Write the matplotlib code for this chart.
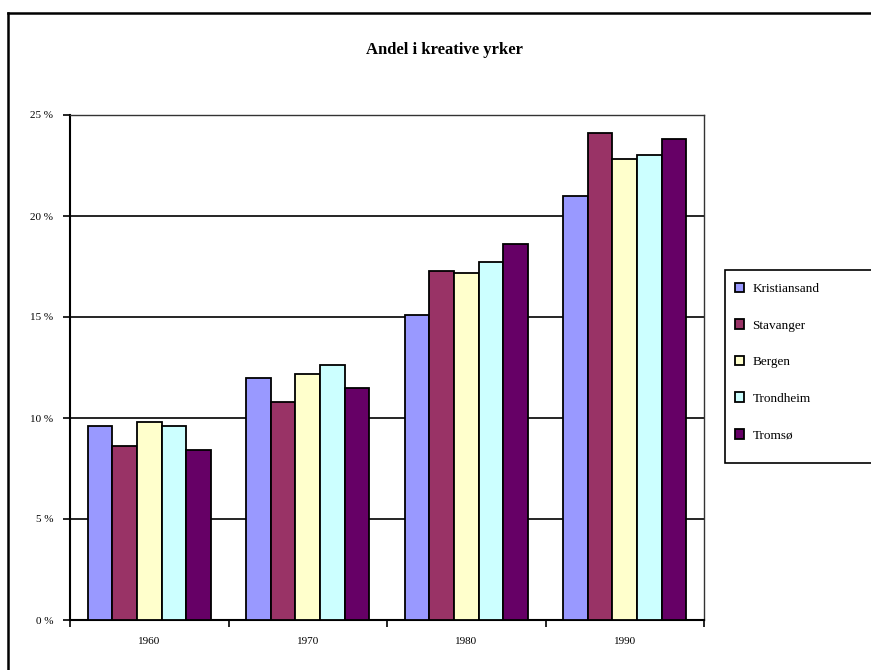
import matplotlib
matplotlib.use("Agg")
import matplotlib.pyplot as plt
from matplotlib.lines import Line2D
from matplotlib.patches import Rectangle
import numpy as np

# data (percent)
years = ["1960", "1970", "1980", "1990"]
cities = ["Kristiansand", "Stavanger", "Bergen", "Trondheim", "Tromsø"]
kristiansand = [9.6, 12.0, 15.1, 21.0]
stavanger = [8.6, 10.8, 17.3, 24.1]
bergen = [9.8, 12.2, 17.2, 22.8]
trondheim = [9.6, 12.6, 17.7, 23.0]
tromso = [8.4, 11.5, 18.6, 23.8]
series = [kristiansand, stavanger, bergen, trondheim, tromso]
colors = ["#9999FF", "#993366", "#FFFFCC", "#CCFFFF", "#660066"]

plt.rcParams['font.family'] = ['Liberation Serif', 'DejaVu Serif']

W, H = 871, 670
fig = plt.figure(figsize=(W / 100, H / 100), dpi=100)
fig.patch.set_facecolor("white")

# plot area in pixels: left 70, right 704, top 115, bottom 620
ax = fig.add_axes([70 / W, 1 - 620 / H, 634 / W, 505 / H])

x = np.arange(len(years))
bw = 0.155
for i, (vals, c, name) in enumerate(zip(series, colors, cities)):
    ax.bar(x + (i - 2) * bw, vals, width=bw, color=c, edgecolor="black",
           linewidth=1.3, label=name, zorder=3)

ax.set_xlim(-0.5, len(years) - 0.5)
ax.set_ylim(0, 25)
ax.set_yticks(np.arange(0, 26, 5))
ax.set_yticklabels([f"{v} %" for v in range(0, 26, 5)], fontsize=8)
ax.yaxis.grid(True, color="black", linewidth=1.2, zorder=0)
ax.set_axisbelow(True)

ax.set_xticks(x)
ax.set_xticklabels(years, fontsize=8)
ax.set_xticks(np.arange(-0.5, len(years), 1), minor=True)
ax.tick_params(axis="x", which="major", length=0, pad=12)
ax.tick_params(axis="x", which="minor", length=5, width=1.2, direction="out")
ax.tick_params(axis="y", length=5, width=1.2, direction="out", pad=7)

for s in ["left", "bottom"]:
    ax.spines[s].set_linewidth(1.5)
    ax.spines[s].set_color("black")
for s in ["top", "right"]:
    ax.spines[s].set_linewidth(1.0)
    ax.spines[s].set_color("#333333")

fig.text(0.51, 1 - 50 / H, "Andel i kreative yrker", ha="center", va="center",
         fontsize=12, fontweight="bold")

# legend box drawn by hand, it runs off the right edge
fig.add_artist(Rectangle((725 / W, 1 - 463 / H), 0.2, (463 - 270) / H,
                         transform=fig.transFigure, facecolor="white",
                         edgecolor="black", linewidth=1.2))
leg = fig.legend(loc="upper left", bbox_to_anchor=(728 / W, 1 - 276 / H),
                 bbox_transform=fig.transFigure, fontsize=9.5,
                 frameon=False, handlelength=0.75, handleheight=0.75,
                 handletextpad=0.6, labelspacing=1.83, borderpad=0.5,
                 borderaxespad=0)

# outer chart frame (runs off the right and bottom edge)
fig.add_artist(Line2D([8 / W, 8 / W], [0, 1 - 13 / H], color="black", linewidth=1.8,
                      transform=fig.transFigure))
fig.add_artist(Line2D([8 / W, 1], [1 - 13 / H, 1 - 13 / H], color="black", linewidth=1.8,
                      transform=fig.transFigure))

fig.savefig("out.png", dpi=100)
